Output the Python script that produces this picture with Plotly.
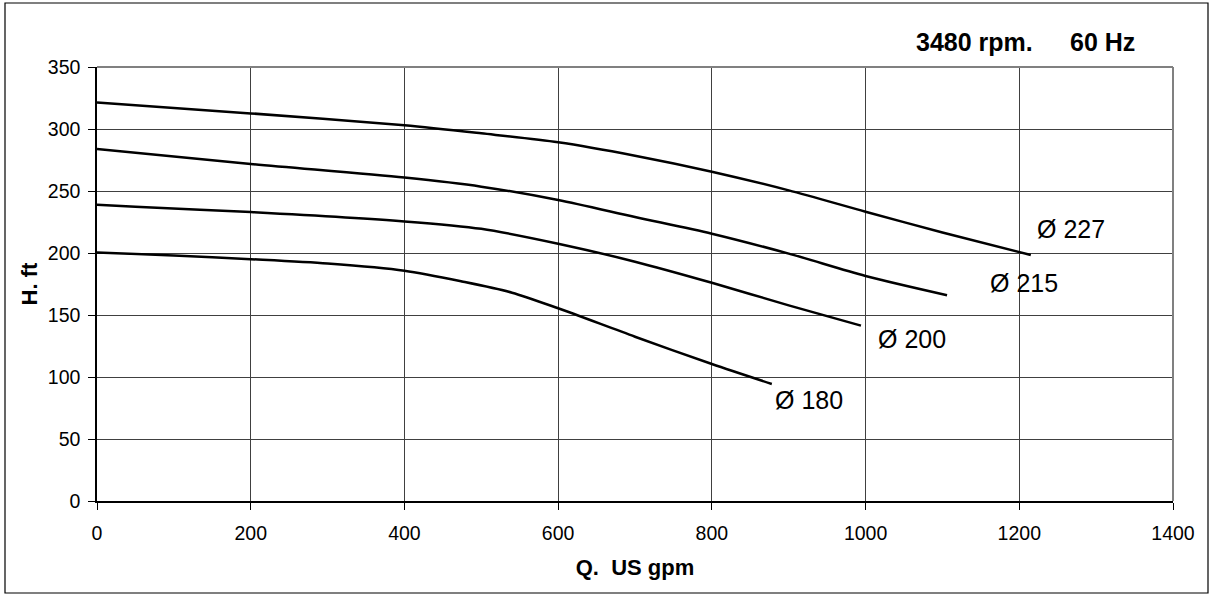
import plotly.graph_objects as go

# Flow (US gpm) and head (ft) for each impeller diameter
q_227 = [0, 200, 400, 500, 600, 700, 800, 900, 1000, 1100, 1215]
h_227 = [321.3, 312.6, 303.0, 296.5, 289.3, 278.5, 265.6, 250.5, 233.3, 216.5, 198.4]

q_215 = [0, 200, 400, 500, 600, 700, 800, 900, 1000, 1106]
h_215 = [283.8, 271.8, 260.8, 253.5, 242.7, 229.0, 215.6, 199.5, 181.5, 166.0]

q_200 = [0, 50, 200, 400, 500, 600, 700, 800, 900, 994]
h_200 = [239.0, 237.3, 233.0, 225.5, 219.5, 207.5, 193.0, 176.0, 157.8, 141.4]

q_180 = [0, 100, 200, 300, 400, 475, 540, 600, 700, 800, 878]
h_180 = [200.5, 198.0, 195.0, 191.5, 185.7, 177.0, 168.0, 155.4, 132.5, 110.5, 94.4]

curve_labels = ["Ø 227", "Ø 215", "Ø 200", "Ø 180"]
label_x = [1221, 1159, 1014, 880]
label_y = [219.0, 176.2, 130.6, 81.2]

x_ticks = [0, 200, 400, 600, 800, 1000, 1200, 1400]
y_ticks = [0, 50, 100, 150, 200, 250, 300, 350]

FONT = "Liberation Sans, Arial, sans-serif"

fig = go.Figure()
for q, h in [(q_227, h_227), (q_215, h_215), (q_200, h_200), (q_180, h_180)]:
    fig.add_trace(go.Scatter(x=q, y=h, mode="lines",
                             line=dict(color="black", width=2.5, shape="spline", smoothing=0.8),
                             showlegend=False, hoverinfo="skip"))

for t, lx, ly in zip(curve_labels, label_x, label_y):
    fig.add_annotation(x=lx, y=ly, xref="x", yref="y", text=t, showarrow=False,
                       xanchor="left", yanchor="middle",
                       font=dict(family=FONT, size=25, color="black"))

fig.add_annotation(x=(1035 - 97) / 1076, y=(501 - 42) / 434, xref="paper", yref="paper",
                   text="<b>3480 rpm.</b>", showarrow=False, xanchor="right", yanchor="middle",
                   font=dict(family=FONT, size=25, color="black"))
fig.add_annotation(x=(1068 - 97) / 1076, y=(501 - 42) / 434, xref="paper", yref="paper",
                   text="<b>60 Hz</b>", showarrow=False, xanchor="left", yanchor="middle",
                   font=dict(family=FONT, size=25, color="black"))

# plot-area top/right border (gray)
fig.add_shape(type="line", xref="paper", yref="paper", x0=0, x1=1, y0=1, y1=1,
              line=dict(color="#808080", width=2))
fig.add_shape(type="line", xref="paper", yref="paper", x0=1, x1=1, y0=0, y1=1,
              line=dict(color="#808080", width=2))

# outer frame
fig.add_shape(type="rect", xref="paper", yref="paper",
              x0=(5 - 97) / 1076, x1=(1208 - 97) / 1076,
              y0=(501 - 593) / 434, y1=(501 - 3) / 434,
              line=dict(color="black", width=1.2), layer="below")

fig.update_layout(
    width=1211, height=596,
    margin=dict(l=97, r=38, t=67, b=95),
    paper_bgcolor="white", plot_bgcolor="white",
    font=dict(family=FONT, size=19.5, color="black"),
)
fig.update_xaxes(range=[0, 1400], tickvals=x_ticks, ticks="outside", ticklen=7,
                 tickcolor="black", showline=True, linecolor="black", linewidth=1.5,
                 showgrid=True, gridcolor="#404040", gridwidth=1, zeroline=False,
                 ticklabelstandoff=7,
                 title=dict(text="<b>Q.  US gpm</b>", font=dict(size=22), standoff=16))
fig.update_yaxes(range=[0, 350], tickvals=y_ticks, ticks="outside", ticklen=7,
                 tickcolor="black", showline=True, linecolor="black", linewidth=1.5,
                 showgrid=True, gridcolor="#404040", gridwidth=1, zeroline=False,
                 ticklabelstandoff=4,
                 title=dict(text="<b>H. ft</b>", font=dict(size=22), standoff=4))

fig.write_html("out.html", config={"displayModeBar": False},
               post_script="document.body.style.margin='0px';")
